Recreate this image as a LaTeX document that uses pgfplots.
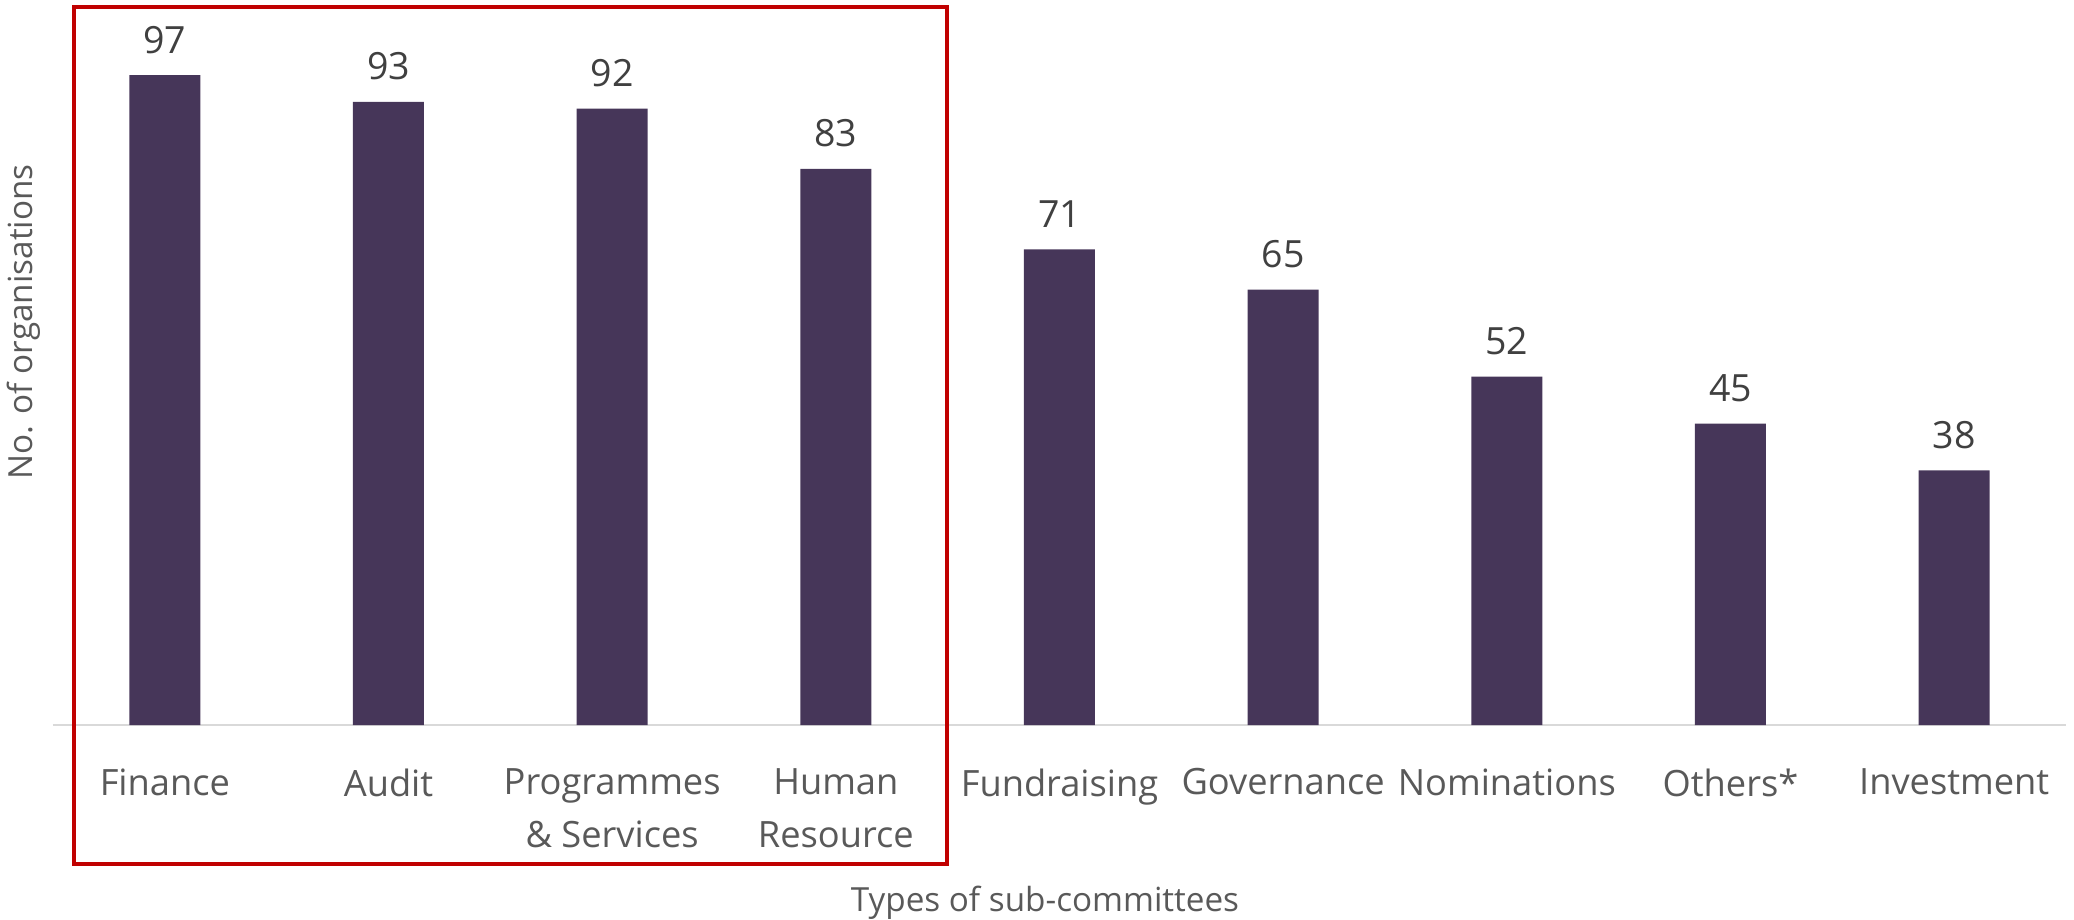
\documentclass[border=0pt]{standalone}
\usepackage{fontspec}
\setmainfont{Open Sans}
\usepackage{pgfplots}
\pgfplotsset{compat=1.18}
\definecolor{barc}{HTML}{463659}
\definecolor{tickc}{HTML}{595959}
\definecolor{labc}{HTML}{404040}
\definecolor{axc}{HTML}{D9D9D9}
\definecolor{boxc}{HTML}{C00000}
\begin{document}
\begin{tikzpicture}
\begin{axis}[
  at={(0,0)}, anchor=south west,
  scale only axis, width=805.2pt, height=268pt,
  xmin=-0.5, xmax=8.5, ymin=0, ymax=100,
  /pgf/number format/assume math mode=true,
  axis y line=none,
  axis x line=bottom,
  x axis line style={draw=axc, line width=0.8pt, -},
  major tick length=0pt,
  xtick={0,1,2,3,4,5,6,7,8},
  xticklabels={Finance, Audit, {Programmes\\\& Services}, {Human\\Resource}, Fundraising, Governance, Nominations, Others*, Investment},
  xticklabel style={align=center, anchor=north, inner sep=0pt, yshift=-17.2pt, text=tickc, font=\fontsize{14.5}{21.2}\selectfont},
  ytick=\empty,
  ybar, bar width=28.4pt,
  nodes near coords,
  nodes near coords style={font=\fontsize{15}{17}\selectfont, text=labc, anchor=base, inner sep=0pt, yshift=8.8pt},
  clip=false,
]
\addplot[fill=barc, draw=none] coordinates {(0,97) (1,93) (2,92) (3,83) (4,71) (5,65) (6,52) (7,45) (8,38)};
\draw[boxc, line width=1.6pt] (axis cs:-0.406,-20.7) rectangle (axis cs:3.497,107.2);
\end{axis}
\node[rotate=90, font=\fontsize{13.3}{16}\selectfont, text=tickc] at (-11.6pt,161.2pt) {No. of organisations};
\node[font=\fontsize{13.3}{16}\selectfont, text=tickc] at (396.8pt,-71.2pt) {Types of sub-committees};
\pgfresetboundingbox
\useasboundingbox (-21.2pt,-77.6pt) rectangle (808.4pt,290pt);
\end{tikzpicture}
\end{document}
